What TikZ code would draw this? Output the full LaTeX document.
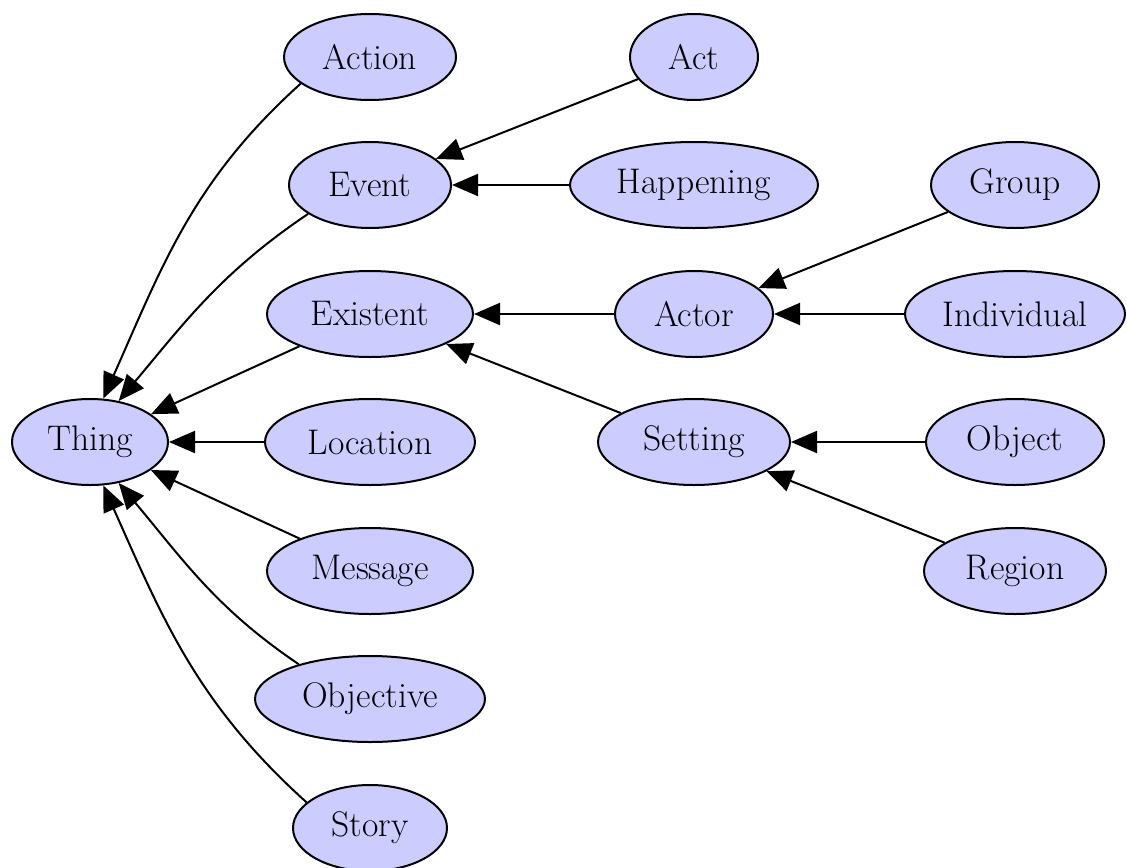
\documentclass[tikz,border=0pt]{standalone}
\usepackage{tikz}
\usetikzlibrary{shapes.geometric, arrows.meta}

\definecolor{clsfill}{RGB}{204,204,255}

\begin{document}
\begin{tikzpicture}[x=0.5pt, y=-0.5pt,
	cls/.style={ellipse, draw, line width=1pt, fill=clsfill, minimum height=43pt, inner sep=0pt, font=\fontsize{17.8}{20}\selectfont},
	isa/.style={line width=1pt, -{Triangle[length=13pt, width=11pt]}}]

	\useasboundingbox (0,0) rectangle (1127,867);

	% root
	\node[cls, minimum width=78pt] (thing) at (90,442) {Thing};

	% first level
	\node[cls, minimum width=86pt] (action) at (370,57) {Action};
	\node[cls, minimum width=81pt] (event) at (370,185) {Event};
	\node[cls, minimum width=103pt] (existent) at (370,314) {Existent};
	\node[cls, minimum width=105pt] (location) at (370,442) {Location};
	\node[cls, minimum width=103pt] (message) at (370,571) {Message};
	\node[cls, minimum width=115pt] (objective) at (370,699) {Objective};
	\node[cls, minimum width=77pt] (story) at (370,828) {Story};

	% second level
	\node[cls, minimum width=64pt] (act) at (694,57) {Act};
	\node[cls, minimum width=124pt] (happening) at (694,185) {Happening};
	\node[cls, minimum width=79pt] (actor) at (694,314) {Actor};
	\node[cls, minimum width=96pt] (setting) at (694,442) {Setting};

	% third level
	\node[cls, minimum width=84pt] (group) at (1015,185) {Group};
	\node[cls, minimum width=110pt] (individual) at (1015,314) {Individual};
	\node[cls, minimum width=89pt] (object) at (1015,442) {Object};
	\node[cls, minimum width=91pt] (region) at (1015,571) {Region};

	% edges to Thing
	\draw[isa] (action.201) to[out=222, in=66] (thing.73);
	\draw[isa] (event.205) to[out=214, in=50] (thing.55);
	\draw[isa] (existent) -- (thing);
	\draw[isa] (location) -- (thing);
	\draw[isa] (message) -- (thing);
	\draw[isa] (objective.154) to[out=146, in=-50] (thing.-55);
	\draw[isa] (story.158) to[out=138, in=-66] (thing.-73);

	% edges to Event, Existent
	\draw[isa] (act) -- (event);
	\draw[isa] (happening) -- (event);
	\draw[isa] (actor) -- (existent);
	\draw[isa] (setting) -- (existent);

	% edges to Actor, Setting
	\draw[isa] (group) -- (actor);
	\draw[isa] (individual) -- (actor);
	\draw[isa] (object) -- (setting);
	\draw[isa] (region) -- (setting);
\end{tikzpicture}
\end{document}
